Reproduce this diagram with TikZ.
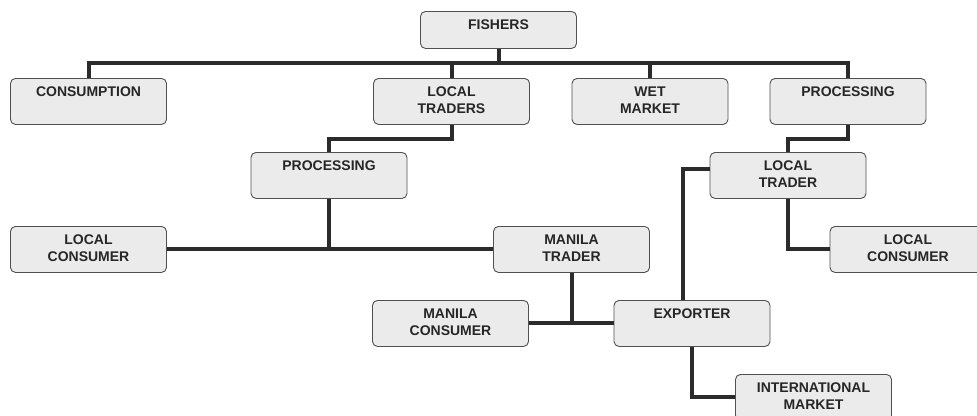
\documentclass[tikz,border=0pt]{standalone}
\usepackage{fontspec}
\setmainfont{Liberation Sans}
\usepackage{tikz}
\usetikzlibrary{positioning,calc}

\definecolor{boxfill}{HTML}{EBEBEB}
\definecolor{boxline}{HTML}{505050}
\definecolor{linkcol}{HTML}{2B2B2B}

\tikzset{
  box/.style={draw=boxline, fill=boxfill, line width=0.9pt, rounded corners=5pt,
    anchor=north, text width=150pt, align=center, inner xsep=3pt, inner ysep=8pt,
    text height=10pt, text depth=20pt,
    font=\bfseries\fontsize{14}{17}\selectfont, text=black!85},
  link/.style={draw=linkcol, line width=4pt}
}

\begin{document}
\begin{tikzpicture}[x=1pt, y=-1pt]
    \useasboundingbox (0,0) rectangle (977,415);

    \node[box, text depth=11pt] (fishers) at (498.5, 11) {FISHERS};
    \node[box] (consumption) at (88.5, 78)   {CONSUMPTION};
    \node[box] (ltraders)    at (451.5, 78)  {LOCAL\\TRADERS};
    \node[box] (wetmarket)   at (650, 78)    {WET\\MARKET};
    \node[box] (procright)   at (848, 78)    {PROCESSING};
    \node[box] (procleft)    at (329, 152)   {PROCESSING};
    \node[box] (ltrader)     at (788, 152)   {LOCAL\\TRADER};
    \node[box] (lconsleft)   at (88.5, 226)  {LOCAL\\CONSUMER};
    \node[box] (mtrader)     at (571.5, 226) {MANILA\\TRADER};
    \node[box] (lconsright)  at (908, 226)   {LOCAL\\CONSUMER};
    \node[box] (mconsumer)   at (450.5, 300) {MANILA\\CONSUMER};
    \node[box] (exporter)    at (692, 300)   {EXPORTER};
    \node[box] (intmarket)   at (813.5, 374) {INTERNATIONAL\\MARKET};

    % top bus
    \coordinate (bus) at (0, 63);
    \path[link]
    (consumption.north) |- (bus -| procright.north) -- (procright.north)
    (fishers.south) -- (fishers.south |- bus)
    (ltraders.north) -- (ltraders.north |- bus)
    (wetmarket.north) -- (wetmarket.north |- bus);

    \path[link]
    (ltraders.south) -- ++(0, 14.5) -| (procleft.north)
    (procright.south) -- ++(0, 14.5) -| (ltrader.north)
    (lconsleft.east) -- (mtrader.west)
    (procleft.south) -- (procleft.south |- lconsleft.east)
    (mconsumer.east) -- (exporter.west)
    (mtrader.south) -- (mtrader.south |- exporter.west)
    ([yshift=6pt]ltrader.west) -| ([xshift=-9pt]exporter.north)
    (ltrader.south) |- (lconsright.west)
    (exporter.south) |- (intmarket.west);
\end{tikzpicture}
\end{document}
